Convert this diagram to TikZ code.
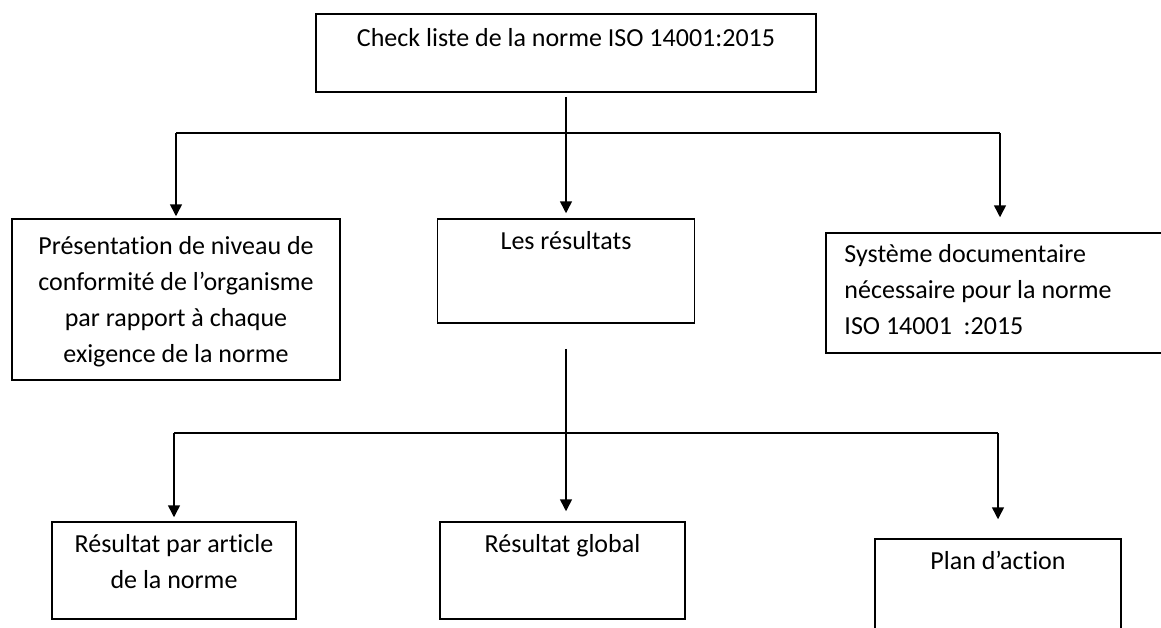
\documentclass[tikz,border=0pt]{standalone}
\usepackage{fontspec}
\setmainfont{Carlito}[Ligatures=NoCommon]
\usetikzlibrary{arrows.meta,positioning,calc}

\begin{document}
\begin{tikzpicture}[x=1pt,y=-1pt,
    box/.style={rectangle,draw,line width=1.5pt,inner sep=0pt},
    txt/.style={anchor=north,align=center,inner sep=6pt,font=\fontsize{26}{36}\selectfont},
    arr/.style={-{Triangle[width=12pt,length=12pt]},line width=1.5pt},
    bar/.style={line width=1.5pt}]
    \useasboundingbox (0,0) rectangle (1161,627);

    % Top of the tree
    \node[box,minimum width=500,minimum height=78,
          label={[txt,inner sep=8pt]north:\strut Check liste de la norme ISO 14001:2015}] (check) at (566,53) {};

    % First level
    \node[box,minimum width=328,minimum height=161,
          label={[txt,inner sep=11pt]north:\strut Présentation de niveau de\\conformité de l’organisme\\par rapport à chaque\\exigence de la norme}] (pres) at (176,299.5) {};
    \node[box,minimum width=257,minimum height=104,
          label={[txt]north:\strut Les résultats}] (res) at (566,271) {};
    \node[box,minimum width=348,minimum height=120,
          label={[txt,anchor=north west,align=left,inner sep=5pt,xshift=14pt]north west:\strut Système documentaire\\nécessaire pour la norme\\ISO 14001\ \ :2015}] (sys) at (1000,293) {};

    \coordinate (fork1) at (566,133);
    \draw[arr,shorten <=4pt,shorten >=5pt] (check.south) -- (res.north);
    \draw[bar] (pres.north |- fork1) -- (sys.north |- fork1);
    \draw[arr,shorten >=2pt] (pres.north |- fork1) -- (pres.north);
    \draw[arr,shorten >=15pt] (sys.north |- fork1) -- (sys.north);

    % Second level
    \node[box,minimum width=244,minimum height=97,
          label={[txt]north:\strut Résultat par article\\de la norme}] (art) at (174,570.5) {};
    \node[box,minimum width=245,minimum height=97,
          label={[txt]north:\strut Résultat global}] (glob) at (562.5,570.5) {};
    \node[box,minimum width=246,minimum height=121,
          label={[txt]north:\strut Plan d’action}] (plan) at (998,599.5) {};

    \coordinate (fork2) at (566,433);
    \draw[arr,shorten <=25pt,shorten >=10pt] (res.south) -- (res.south |- glob.north);
    \draw[bar] (art.north |- fork2) -- (plan.north |- fork2);
    \draw[arr,shorten >=4pt] (art.north |- fork2) -- (art.north);
    \draw[arr,shorten >=19pt] (plan.north |- fork2) -- (plan.north);
\end{tikzpicture}
\end{document}
